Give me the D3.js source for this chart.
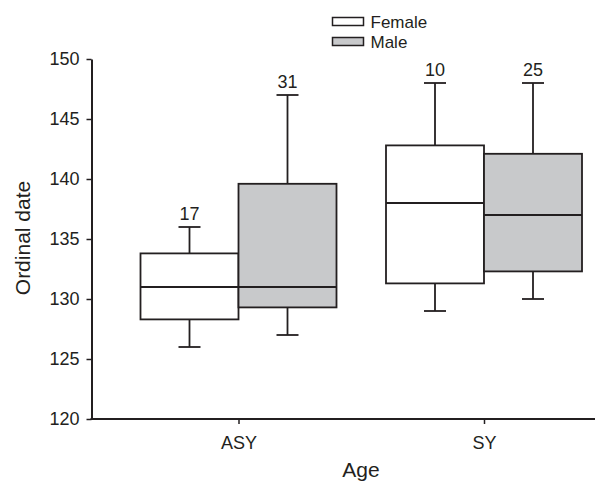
<!DOCTYPE html>
<html>
<head>
    <meta charset="utf-8">
    <title>Ordinal date by age</title>
    <script type="text/javascript" src="https://cdn.jsdelivr.net/npm/d3@7"></script>
    <style>
        body { margin: 0; background: #fff; }
        text { font-family: "Liberation Sans", Arial, sans-serif; fill: #231f20; }
    </style>
</head>

<body>

<script type="text/javascript">
    // data
    var ages = ["ASY", "SY"],
        sexes = ["Female", "Male"],
        yTicks = [120, 125, 130, 135, 140, 145, 150];

    var femaleLow = [126, 129],
        femaleQ1 = [128.3, 131.3],
        femaleMed = [131, 138],
        femaleQ3 = [133.8, 142.8],
        femaleHigh = [136, 148],
        femaleN = [17, 10];

    var maleLow = [127, 130],
        maleQ1 = [129.3, 132.3],
        maleMed = [131, 137],
        maleQ3 = [139.6, 142.1],
        maleHigh = [147, 148],
        maleN = [31, 25];

    var fills = {Female: "#ffffff", Male: "#c8c9cb"},
        ink = "#231f20";

    var width = 595,
        height = 481,
        plotLeft = 91.5,
        plotTop = 59,
        plotBottom = 419;

    var boxes = [];
    ages.forEach(function (a, i) {
        boxes.push({age: a, sex: "Female", low: femaleLow[i], q1: femaleQ1[i], med: femaleMed[i], q3: femaleQ3[i], high: femaleHigh[i], n: femaleN[i]});
        boxes.push({age: a, sex: "Male", low: maleLow[i], q1: maleQ1[i], med: maleMed[i], q3: maleQ3[i], high: maleHigh[i], n: maleN[i]});
    });

    var svg = d3.select("body").append("svg")
            .attr("width", width)
            .attr("height", height);

    var y = d3.scaleLinear().domain([120, 150]).range([plotBottom, plotTop]);
    var x = d3.scalePoint().domain(ages).range([238.5, 484]);
    var xs = d3.scaleBand().domain(sexes).range([-98, 98]);

    // y axis
    var yAxis = svg.append("g")
            .attr("transform", "translate(" + plotLeft + ",0)")
            .call(d3.axisLeft(y).tickValues(yTicks).tickSize(5).tickSizeOuter(0).tickPadding(7));
    yAxis.select(".domain").attr("stroke", ink).attr("stroke-width", 2);
    yAxis.selectAll(".tick line").attr("stroke", ink).attr("stroke-width", 1.5);
    yAxis.selectAll(".tick text")
            .style("font-size", "18px")
            .style("font-family", "'Liberation Sans', Arial, sans-serif")
            .attr("fill", ink);

    // x axis
    svg.append("line")
            .attr("x1", plotLeft - 1).attr("x2", width)
            .attr("y1", plotBottom).attr("y2", plotBottom)
            .attr("stroke", ink).attr("stroke-width", 2);
    var xAxis = svg.append("g")
            .attr("transform", "translate(0," + plotBottom + ")")
            .call(d3.axisBottom(x).tickSize(5).tickSizeOuter(0).tickPadding(12));
    xAxis.select(".domain").remove();
    xAxis.selectAll(".tick line").attr("stroke", ink).attr("stroke-width", 1.5);
    xAxis.selectAll(".tick text")
            .style("font-size", "18px")
            .style("font-family", "'Liberation Sans', Arial, sans-serif")
            .attr("fill", ink);

    // axis titles
    svg.append("text")
            .attr("transform", "translate(30,238) rotate(-90)")
            .attr("text-anchor", "middle")
            .style("font-size", "21px")
            .text("Ordinal date");
    svg.append("text")
            .attr("x", 361).attr("y", 476.5)
            .attr("text-anchor", "middle")
            .style("font-size", "21px")
            .text("Age");

    // boxes
    var g = svg.selectAll("g.box")
            .data(boxes)
            .enter()
            .append("g")
            .attr("class", "box");

    function cx(d) { return x(d.age) + xs(d.sex) + xs.bandwidth() / 2; }

    g.append("line")
            .attr("x1", cx).attr("x2", cx)
            .attr("y1", function (d) { return y(d.high); })
            .attr("y2", function (d) { return y(d.low); })
            .attr("stroke", ink).attr("stroke-width", 1.8);

    g.selectAll("line.cap")
            .data(function (d) { return [{d: d, v: d.high}, {d: d, v: d.low}]; })
            .enter()
            .append("line")
            .attr("class", "cap")
            .attr("x1", function (c) { return cx(c.d) - 11; })
            .attr("x2", function (c) { return cx(c.d) + 11; })
            .attr("y1", function (c) { return y(c.v); })
            .attr("y2", function (c) { return y(c.v); })
            .attr("stroke", ink).attr("stroke-width", 1.8);

    g.append("rect")
            .attr("x", function (d) { return x(d.age) + xs(d.sex); })
            .attr("width", xs.bandwidth())
            .attr("y", function (d) { return y(d.q3); })
            .attr("height", function (d) { return y(d.q1) - y(d.q3); })
            .attr("fill", function (d) { return fills[d.sex]; })
            .attr("stroke", ink).attr("stroke-width", 1.8);

    g.append("line")
            .attr("x1", function (d) { return x(d.age) + xs(d.sex); })
            .attr("x2", function (d) { return x(d.age) + xs(d.sex) + xs.bandwidth(); })
            .attr("y1", function (d) { return y(d.med); })
            .attr("y2", function (d) { return y(d.med); })
            .attr("stroke", ink).attr("stroke-width", 1.8);

    g.append("text")
            .attr("x", cx)
            .attr("y", function (d) { return y(d.high) - 7; })
            .attr("text-anchor", "middle")
            .style("font-size", "18px")
            .text(function (d) { return d.n; });

    // legend
    var legend = svg.selectAll("g.legend")
            .data(sexes)
            .enter()
            .append("g")
            .attr("class", "legend")
            .attr("transform", function (d, i) { return "translate(332.5," + (17.5 + i * 20) + ")"; });
    legend.append("rect")
            .attr("width", 31).attr("height", 8)
            .attr("fill", function (d) { return fills[d]; })
            .attr("stroke", ink).attr("stroke-width", 1.5);
    legend.append("text")
            .attr("x", 38).attr("y", 10)
            .style("font-size", "17px")
            .text(function (d) { return d; });
</script>

</body>

</html>
